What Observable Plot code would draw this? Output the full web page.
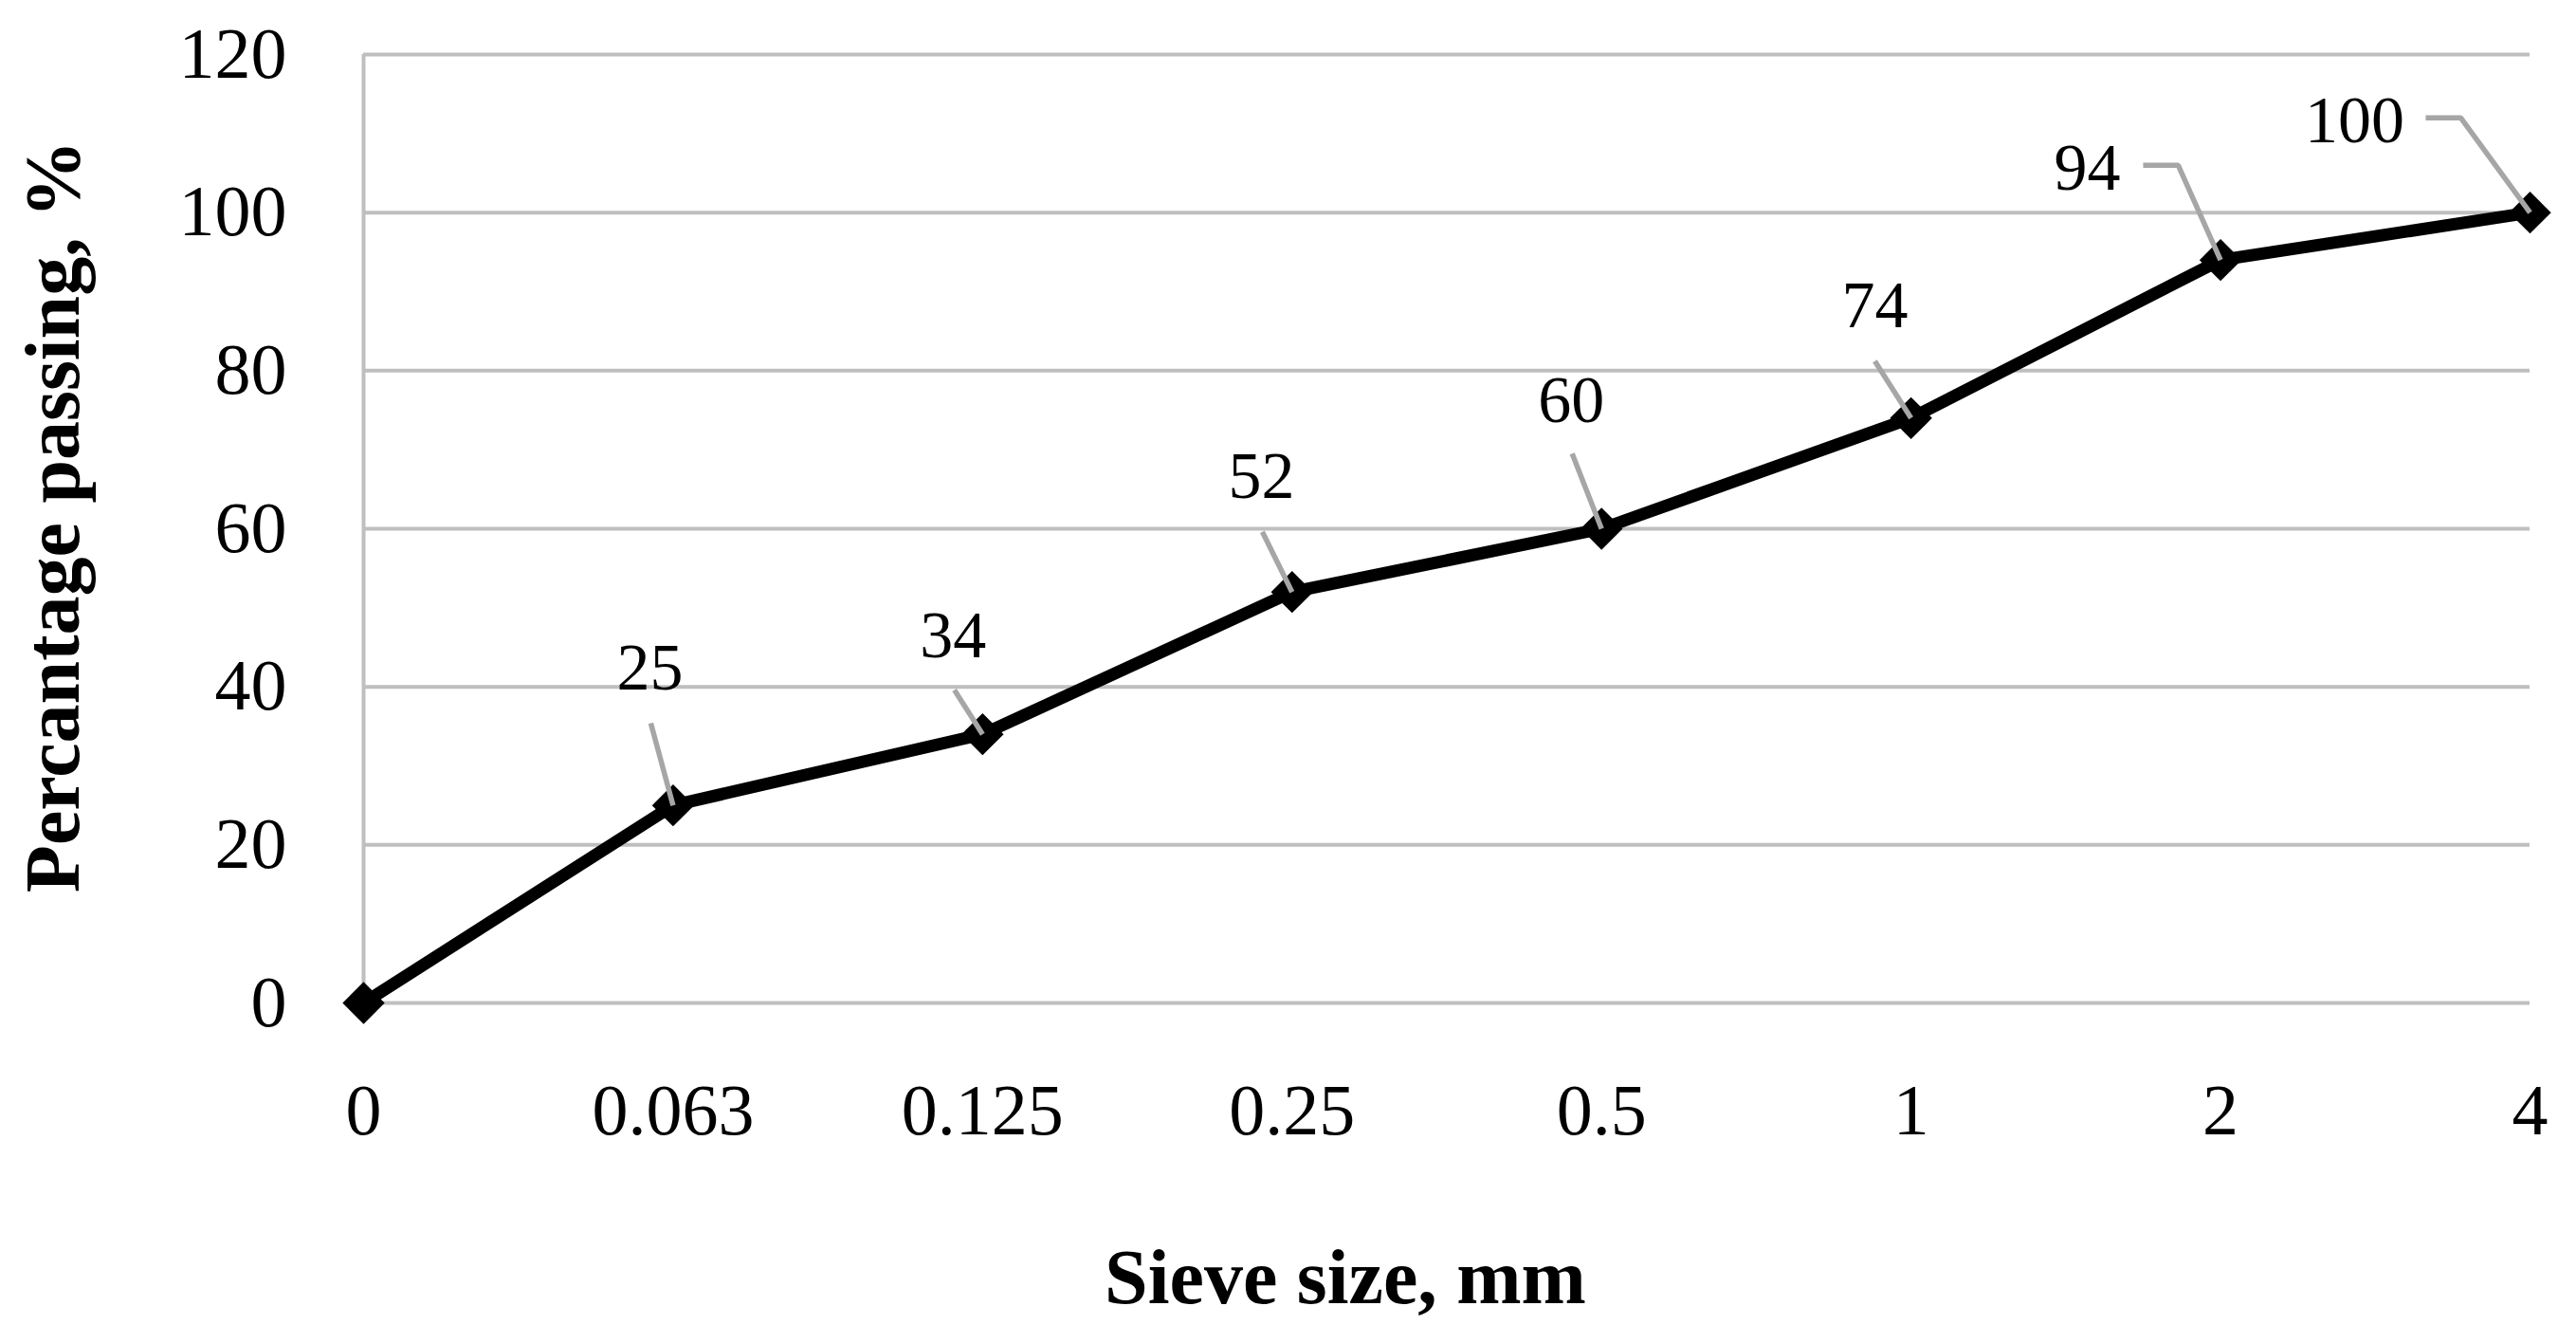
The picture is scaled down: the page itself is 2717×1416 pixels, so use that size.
<!DOCTYPE html>
<html>
<head>
<meta charset="utf-8">
<script src="https://cdn.jsdelivr.net/npm/d3@7"></script>
<script src="https://cdn.jsdelivr.net/npm/@observablehq/plot@0.6"></script>
<style>
  html, body { margin: 0; padding: 0; background: #ffffff; }
  #chart svg { display: block; }
</style>
</head>
<body>
<div id="chart"></div>
<script>
// ---- data ----
const sieveSizes = ["0", "0.063", "0.125", "0.25", "0.5", "1", "2", "4"];
const passing = [0, 25, 34, 52, 60, 74, 94, 100];
const yTicks = [0, 20, 40, 60, 80, 100, 120];
const xTitle = "Sieve size, mm";
const yTitle = "Percantage passing, %";

// data-label placement (in data units: sieve index, percent)
const labelX = [null, 0.925, 1.905, 2.901, 3.902, 4.883, 5.569, 6.433];
const labelY = [null, 42.4, 46.4, 66.6, 76.2, 88.2, 105.6, 111.6];
const leaderStartX = [null, 0.928, 1.909, 2.904, 3.905, 4.883, 5.750, 6.663];
const leaderStartY = [null, 35.4, 39.6, 59.6, 69.5, 81.2, 106.0, 112.0];
const leaderBendX = [null, null, null, null, null, null, 5.863, 6.776];
const leaderBendY = [null, null, null, null, null, null, 106.0, 112.0];

// ---- derived tables ----
const points = sieveSizes.map((s, i) => ({i, size: s, value: passing[i]}));
const labels = points
  .filter(d => labelX[d.i] != null)
  .map(d => ({x: labelX[d.i], y: labelY[d.i], text: String(d.value)}));
const leaders = [];
points.forEach(d => {
  if (leaderStartX[d.i] == null) return;
  leaders.push({k: d.i, x: leaderStartX[d.i], y: leaderStartY[d.i]});
  if (leaderBendX[d.i] != null) leaders.push({k: d.i, x: leaderBendX[d.i], y: leaderBendY[d.i]});
  leaders.push({k: d.i, x: d.i, y: d.value});
});

const chart = Plot.plot({
  width: 2717,
  height: 1416,
  marginLeft: 383,
  marginRight: 49,
  marginTop: 57,
  marginBottom: 359,
  style: {fontFamily: "'Liberation Serif', 'Times New Roman', serif", fontSize: "76px", color: "#000", background: "#fff"},
  x: {type: "linear", domain: [0, sieveSizes.length - 1]},
  y: {domain: [0, 120]},
  marks: [
    Plot.gridY(yTicks, {stroke: "#bfbfbf", strokeOpacity: 1, strokeWidth: 4}),
    Plot.ruleX([0], {stroke: "#bfbfbf", strokeWidth: 4}),
    Plot.axisY({ticks: yTicks, tickSize: 0, tickPadding: 81, fontSize: 76, label: null}),
    Plot.axisX({ticks: sieveSizes.map((_, i) => i), tickFormat: i => sieveSizes[i], tickSize: 0, tickPadding: 85, fontSize: 76, label: null}),
    Plot.line(points, {x: "i", y: "value", stroke: "#000", strokeWidth: 13, strokeLinejoin: "miter"}),
    Plot.dot(points, {x: "i", y: "value", symbol: "diamond2", r: 20, fill: "#000", stroke: null}),
    Plot.line(leaders, {x: "x", y: "y", z: "k", stroke: "#a6a6a6", strokeWidth: 5.5, strokeLinejoin: "miter", strokeLinecap: "butt"}),
    Plot.text(labels, {x: "x", y: "y", text: "text", fontSize: 70, fill: "#000", textAnchor: "middle", lineAnchor: "middle"}),
    Plot.text([xTitle], {frameAnchor: "bottom", dx: -107, dy: 290, fontSize: 82, fontWeight: "bold", fill: "#000", lineAnchor: "middle", textAnchor: "middle"}),
    Plot.text([yTitle], {frameAnchor: "left", rotate: -90, dx: -327, dy: -13, fontSize: 82, fontWeight: "bold", fill: "#000", lineAnchor: "middle", textAnchor: "middle"})
  ]
});
document.getElementById("chart").appendChild(chart);
</script>
</body>
</html>
